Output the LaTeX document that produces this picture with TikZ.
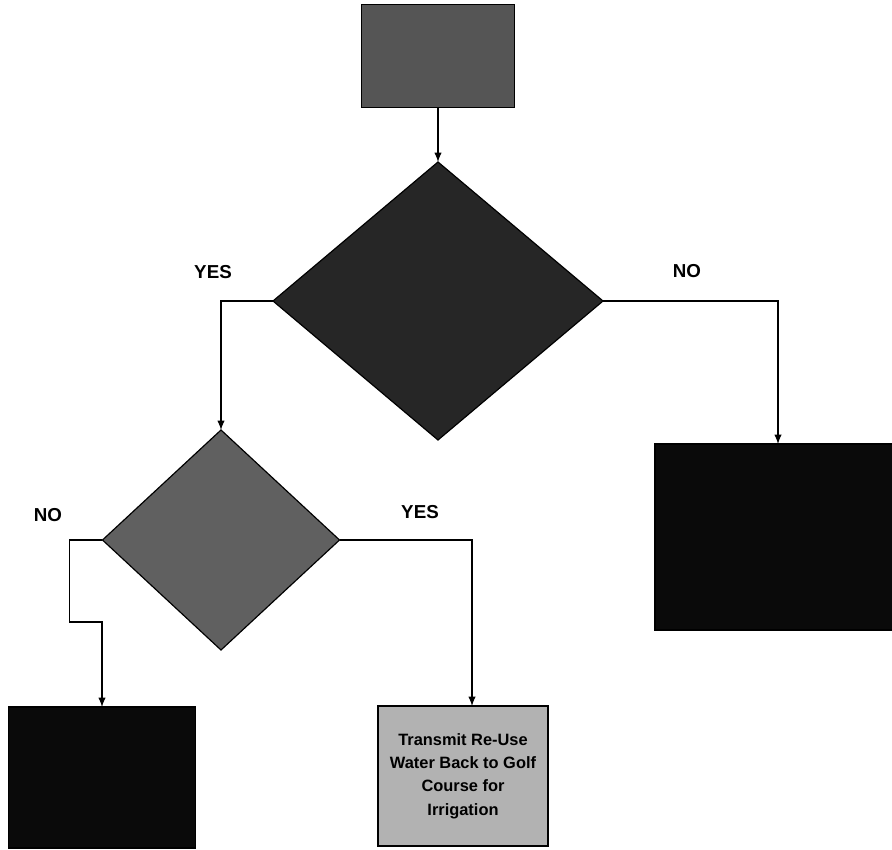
\documentclass[tikz,border=0pt]{standalone}
\usepackage{fontspec}
\setmainfont{Liberation Sans}
\usetikzlibrary{positioning,arrows.meta,shapes.geometric}

\definecolor{topgray}{HTML}{555555}
\definecolor{maingray}{HTML}{262626}
\definecolor{subgray}{HTML}{606060}
\definecolor{reusegray}{HTML}{B2B2B2}
\definecolor{darkbox}{HTML}{0A0A0A}

\begin{document}
\begin{tikzpicture}[
			x=0.03cm,
			y=-0.03cm,
			>={Latex[length=2.8mm,width=2.2mm]},
			box/.style={
				draw,
				line width=1pt,
				outer sep=0pt,
				align=center
			},
			decision/.style={
				draw,
				diamond,
				line width=1pt,
				inner sep=0pt,
				outer sep=0pt
			},
			answer/.style={
				font=\bfseries\fontsize{16}{19}\selectfont
			},
			flow/.style={
				->,
				line width=1pt
			}
			]
			
			\useasboundingbox (0,0) rectangle (892,850);
			
			%%%%%%%%%%%%%%%%%%%%%%%%%%%%%%%%%%%%%%%%%%%%%%%%%%%%%%
			% Nodes
			%%%%%%%%%%%%%%%%%%%%%%%%%%%%%%%%%%%%%%%%%%%%%%%%%%%%%%
			
			\node (start) [box, fill=topgray, minimum width=4.59cm, minimum height=3.09cm]
			at (438,56) {};
			
			\node (mainq) [decision, fill=maingray, minimum width=9.9cm, minimum height=8.34cm]
			at (438,301) {};
			
			\node (subq) [decision, fill=subgray, minimum width=7.11cm, minimum height=6.6cm]
			at (221,540) {};
			
			\node (rightbox) [box, fill=darkbox, minimum width=7.38cm, minimum height=5.58cm]
			at (778,537) {};
			
			\node (leftbox) [box, fill=darkbox, minimum width=5.61cm, minimum height=4.23cm]
			at (102,777.5) {};
			
			\node (reusebox) [box, fill=reusegray, minimum width=5.1cm, minimum height=4.2cm,
			font=\bfseries\fontsize{14}{20}\selectfont]
			at (463,776)
			{Transmit Re-Use\\Water Back to Golf\\Course for\\Irrigation};
			
			%%%%%%%%%%%%%%%%%%%%%%%%%%%%%%%%%%%%%%%%%%%%%%%%%%%%%%
			% Labels
			%%%%%%%%%%%%%%%%%%%%%%%%%%%%%%%%%%%%%%%%%%%%%%%%%%%%%%
			
			\node (mainyes) [answer] at (213,272) {YES};
			\node (mainno) [answer] at (687,271) {NO};
			\node (subno) [answer] at (48,515) {NO};
			\node (subyes) [answer] at (420,512) {YES};
			
			%%%%%%%%%%%%%%%%%%%%%%%%%%%%%%%%%%%%%%%%%%%%%%%%%%%%%%
			% Flow
			%%%%%%%%%%%%%%%%%%%%%%%%%%%%%%%%%%%%%%%%%%%%%%%%%%%%%%
			
			\draw[flow]
			(start) -- (mainq);
			
			\draw[flow]
			(mainq.west) -| (subq.north);
			
			\draw[flow]
			(mainq.east) -| (rightbox.north);
			
			\draw[flow]
			(subq.east) -| ([xshift=0.27cm]reusebox.north);
			
			\draw[flow]
			(subq.west)
			-- ++(-33,0)
			-- ++(0,82)
			-| (leftbox.north);
			
			%%%%%%%%%%%%%%%%%%%%%%%%%%%%%%%%%%%%%%%%%%%%%%%%%%%%%%
			
		\end{tikzpicture}
\end{document}
